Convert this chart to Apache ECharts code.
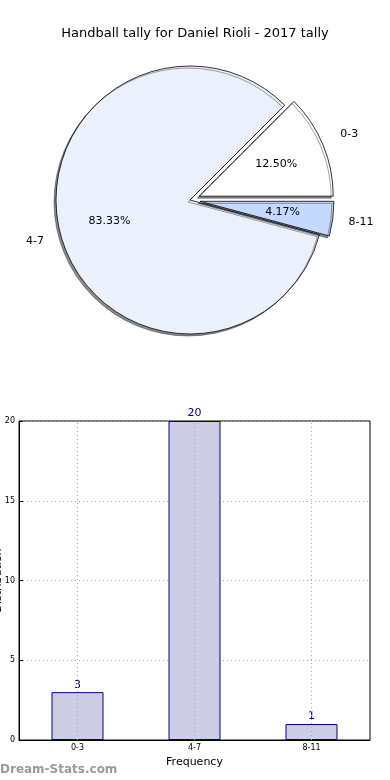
<!DOCTYPE html>
<html><head><meta charset="utf-8">
<script src="https://cdn.jsdelivr.net/npm/echarts@6/dist/echarts.min.js"></script>
<style>html,body{margin:0;padding:0;background:#fff}#c{width:390px;height:780px}</style>
</head><body><div id="c"></div>
<script>
const categories = ['0-3', '4-7', '8-11'];
const counts = [3, 20, 1];
const pieColors = ['#ffffff', '#eaf1fd', '#c5d8fe'];
const exploded = [true, false, true];
const yTicks = [0, 5, 10, 15, 20];
const titleText = 'Handball tally for Daniel Rioli - 2017 tally';

const FONT = 'DejaVu Sans';
const total = counts.reduce((a, b) => a + b, 0);
const R = 134;
const C = [190, 200];

function pieData(styleFn) {
  return categories.map((c, i) => ({
    name: c, value: counts[i], selected: exploded[i],
    itemStyle: styleFn(i)
  }));
}

const chart = echarts.init(document.getElementById('c'));
chart.setOption({
  animation: false,
  title: { text: titleText, left: 'center', top: 22,
    textStyle: { fontFamily: FONT, fontSize: 13, fontWeight: 'normal', color: '#000' } },
  graphic: [{ type: 'text', left: 0, top: 764,
    style: { text: 'Dream-Stats.com', fontFamily: FONT, fontSize: 12, fontWeight: 'bold', fill: '#9a9a9a' } }],
  grid: { left: 19, top: 421, width: 351, height: 319, containLabel: false, outerBoundsMode: 'none',
    show: true, borderColor: '#000', borderWidth: 1, backgroundColor: 'transparent' },
  xAxis: {
    type: 'category', data: categories,
    name: 'Frequency', nameLocation: 'middle', nameGap: 17, nameMoveOverlap: false,
    nameTextStyle: { fontFamily: FONT, fontSize: 11, color: '#000' },
    axisLine: { lineStyle: { color: '#000' } },
    axisTick: { show: false },
    axisLabel: { fontFamily: FONT, fontSize: 8, color: '#000', margin: 4 },
    splitLine: { show: false }
  },
  yAxis: {
    type: 'value', min: 0, max: 20, interval: 5,
    name: 'Distribution', nameLocation: 'middle', nameGap: 15.5, nameMoveOverlap: false,
    nameTextStyle: { fontFamily: FONT, fontSize: 11, color: '#000' },
    axisLine: { show: true, lineStyle: { color: '#000' } },
    axisTick: { show: true, inside: true, length: 4, lineStyle: { color: '#000' } },
    axisLabel: { fontFamily: FONT, fontSize: 8, color: '#000', margin: 4,
      formatter: v => yTicks.includes(v) ? String(v) : '' },
    splitLine: { show: true, lineStyle: { color: '#aaa', type: [1, 3], width: 1 } }
  },
  series: [
    {
      type: 'pie', center: C, radius: R, startAngle: 0, clockwise: false,
      selectedMode: 'multiple', selectedOffset: 10, silent: true,
      data: pieData(i => ({ color: pieColors[i], borderColor: '#000', borderWidth: 0.8,
        shadowColor: 'rgba(0,0,0,0.45)', shadowOffsetX: -2, shadowOffsetY: 2, shadowBlur: 0 })),
      label: { show: false }, labelLine: { show: false }
    },
    {
      type: 'pie', center: C, radius: R * 1.2, startAngle: 0, clockwise: false,
      selectedMode: 'multiple', selectedOffset: 10, silent: true, z: 3,
      data: pieData(() => ({ color: 'transparent', borderWidth: 0 })),
      label: { show: true, position: 'inside', fontFamily: FONT, fontSize: 11, color: '#000',
        formatter: p => (p.value / total * 100).toFixed(2) + '%' },
      labelLine: { show: false }
    },
    {
      type: 'pie', center: C, radius: R * 2.35, startAngle: 0, clockwise: false,
      selectedMode: 'multiple', selectedOffset: 12, silent: true, z: 3,
      data: pieData(() => ({ color: 'transparent', borderWidth: 0 })),
      label: { show: true, position: 'inside', fontFamily: FONT, fontSize: 11, color: '#000',
        formatter: '{b}' },
      labelLine: { show: false }
    },
    {
      type: 'bar', data: counts, barWidth: 52,
      itemStyle: { color: 'rgba(204,204,228,1)', borderColor: '#00008b', borderWidth: 1 },
      label: { show: true, position: 'top', distance: 2, fontFamily: FONT, fontSize: 11, color: '#00006b' },
      markLine: {
        silent: true, symbol: 'none', label: { show: false },
        lineStyle: { color: '#aaa', type: [1, 3], width: 1 },
        data: categories.map(c => ({ xAxis: c }))
      }
    }
  ]
});
</script></body></html>
